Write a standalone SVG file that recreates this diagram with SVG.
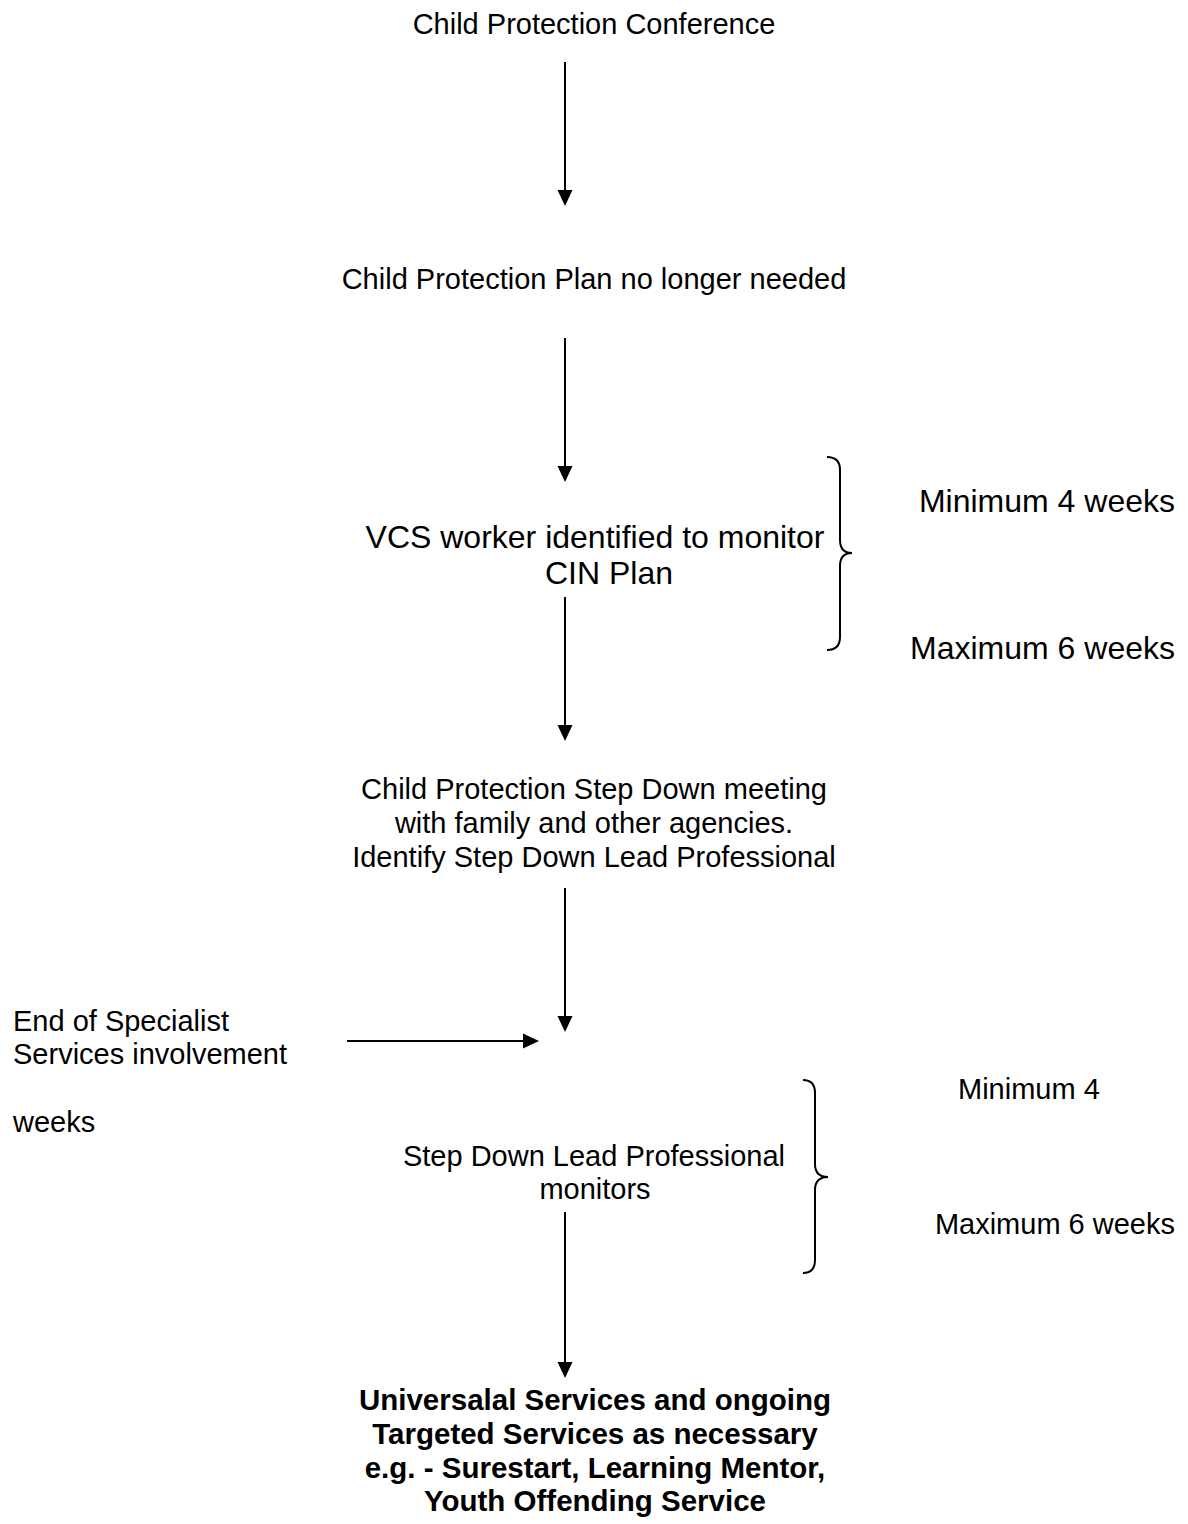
<svg xmlns="http://www.w3.org/2000/svg" width="1188" height="1524" viewBox="0 0 1188 1524">
<style>
text { font-family: "Liberation Sans", Arial, sans-serif; fill: #000; }
.t { font-size: 29px; }
.big { font-size: 32px; }
.c { text-anchor: middle; }
.e { text-anchor: end; }
.b { font-weight: bold; font-size: 29.5px; }
.arr { stroke: #000; stroke-width: 2; fill: none; marker-end: url(#ah); }
.brace { stroke: #000; stroke-width: 2; fill: none; }
</style>
<defs>
<marker id="ah" markerUnits="userSpaceOnUse" markerWidth="16" markerHeight="16" refX="14" refY="8" orient="auto">
<path d="M0,0.5 L16,8 L0,15.5 z" fill="#000"/>
</marker>
</defs>
<rect width="1188" height="1524" fill="#fff"/>
<g id="connectors">
<line class="arr" x1="565" y1="62" x2="565" y2="204"/>
<line class="arr" x1="565" y1="338" x2="565" y2="480"/>
<line class="arr" x1="565" y1="597" x2="565" y2="739"/>
<line class="arr" x1="565" y1="888" x2="565" y2="1030"/>
<line class="arr" x1="347" y1="1041" x2="537" y2="1041"/>
<line class="arr" x1="565" y1="1212" x2="565" y2="1376"/>
<path class="brace" d="M827,457 Q840,457 840,470 L840,540 Q840,553 852,553 Q840,553 840,566 L840,637 Q840,650 827,650"/>
<path class="brace" d="M803,1080 Q815,1080 815,1093 L815,1164 Q815,1177 828,1177 Q815,1177 815,1190 L815,1260 Q815,1273 803,1273"/>
</g>
<g id="n1"><text class="t c" x="594" y="34">Child Protection Conference</text></g>
<g id="n2"><text class="t c" x="594" y="289">Child Protection Plan no longer needed</text></g>
<g id="n3">
<text class="big c" x="595" y="548">VCS worker identified to monitor</text>
<text class="big c" x="609" y="584">CIN Plan</text>
</g>
<g id="lbl1">
<text class="big e" x="1175" y="512">Minimum 4 weeks</text>
<text class="big e" x="1175" y="659">Maximum 6 weeks</text>
</g>
<g id="n4">
<text class="t c" x="594" y="799">Child Protection Step Down meeting</text>
<text class="t c" x="594" y="833">with family and other agencies.</text>
<text class="t c" x="594" y="867">Identify Step Down Lead Professional</text>
</g>
<g id="n5">
<text class="t" x="13" y="1031">End of Specialist</text>
<text class="t" x="13" y="1064">Services involvement</text>
<text class="t" x="13" y="1132">weeks</text>
</g>
<g id="n6">
<text class="t c" x="594" y="1166">Step Down Lead Professional</text>
<text class="t c" x="595" y="1199">monitors</text>
</g>
<g id="lbl2">
<text class="t" x="958" y="1099">Minimum 4</text>
<text class="t e" x="1175" y="1234">Maximum 6 weeks</text>
</g>
<g id="n7">
<text class="c b" x="595" y="1410">Universalal Services and ongoing</text>
<text class="c b" x="595" y="1444">Targeted Services as necessary</text>
<text class="c b" x="595" y="1478">e.g. - Surestart, Learning Mentor,</text>
<text class="c b" x="595" y="1511">Youth Offending Service</text>
</g>
</svg>
